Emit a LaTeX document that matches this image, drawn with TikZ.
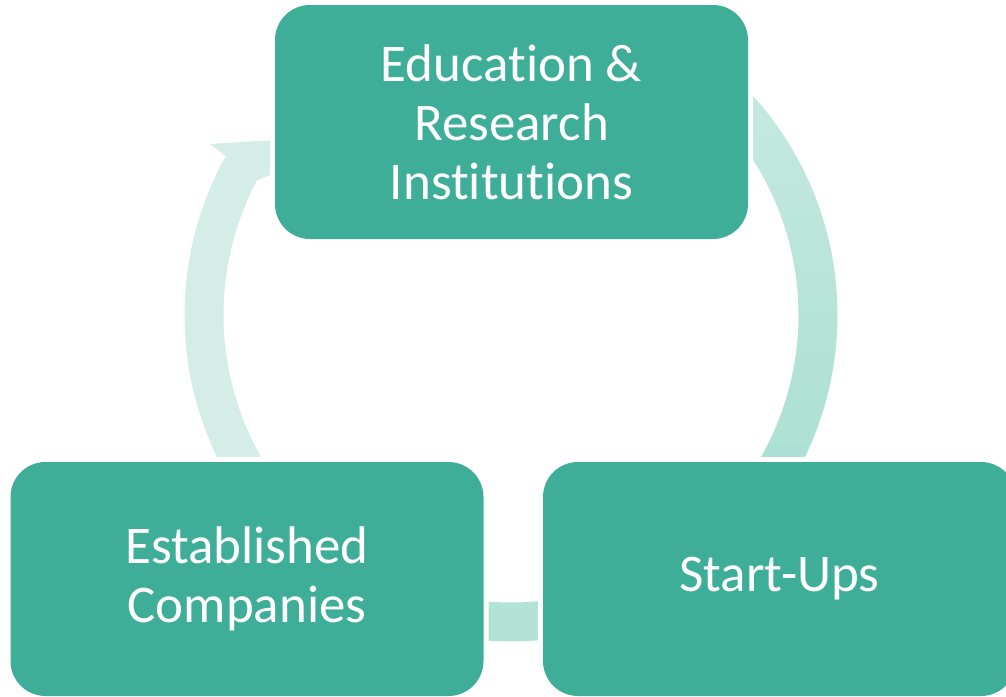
\documentclass[tikz,border=0pt]{standalone}
\usepackage{fontspec}
\setmainfont{Carlito}[Ligatures=NoCommon]
\definecolor{boxteal}{RGB}{62,174,152}
\definecolor{arcpale}{RGB}{212,237,230}
\definecolor{arcmidtop}{RGB}{198,233,224}
\definecolor{arcmidbot}{RGB}{170,223,210}
\definecolor{arclow}{RGB}{180,226,215}
\begin{document}
\begin{tikzpicture}[x=1pt,y=-1pt,
  stage/.style={fill=boxteal, rounded corners=35pt, minimum width=473pt,
    minimum height=234pt, inner sep=0pt, text=white, align=center,
    font=\fontsize{53}{59}\selectfont,
    preaction={draw=white, line width=10pt}}]
\useasboundingbox (0,0) rectangle (1006,696);
\clip (0,0) rectangle (1006,696);
% ring of the cycle: centre and inner/outer radii
\def\cx{511}\def\cy{315}\def\ri{287.5}\def\ro{326.5}
% left arc with its head, rising to the top stage
\fill[arcpale] (258,180)
  -- plot[domain=208.1:146,samples=60] ({\cx+\ri*cos(\x)},{\cy+\ri*sin(\x)})
  -- plot[domain=146:209.1,samples=60] ({\cx+\ro*cos(\x)},{\cy+\ro*sin(\x)})
  -- (210,144) -- (300,138.4) -- (300,162.5) -- cycle;
% right arc, from the top stage down to the start-ups
\shade[top color=arcmidtop, bottom color=arcmidbot]
  plot[domain=-46:34,samples=80] ({\cx+\ro*cos(\x)},{\cy+\ro*sin(\x)})
  -- plot[domain=34:-46,samples=80] ({\cx+\ri*cos(\x)},{\cy+\ri*sin(\x)}) -- cycle;
% bottom link between the two lower stages
\fill[arclow]
  plot[domain=70:110,samples=40] ({\cx+\ro*cos(\x)},{\cy+\ro*sin(\x)})
  -- plot[domain=110:70,samples=40] ({\cx+\ri*cos(\x)},{\cy+\ri*sin(\x)}) -- cycle;
% the three stages
\node[stage] (edu) at (511.5,122) {Education \&\\Research\\Institutions};
\node[stage] (est) at (247,579) {Established\\Companies};
\node[stage] (start) at (779.5,579) {Start-Ups};
\end{tikzpicture}
\end{document}
